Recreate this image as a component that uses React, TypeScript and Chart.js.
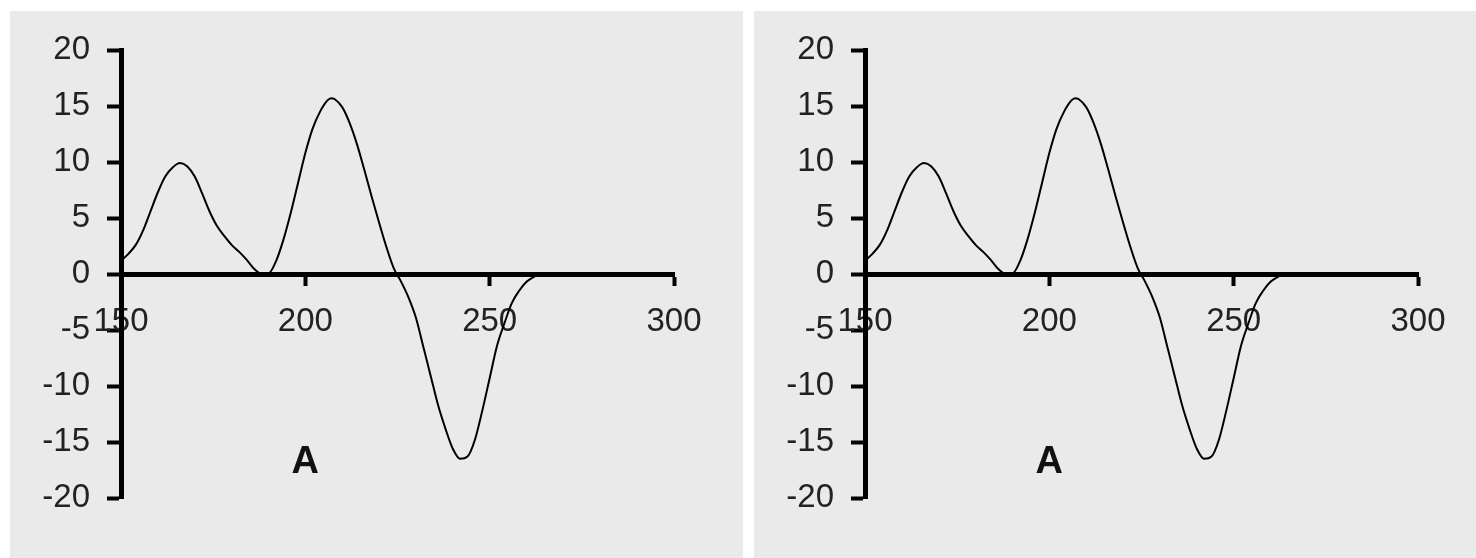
import React, { useEffect, useRef } from "react";
import { Chart, registerables } from "chart.js";

Chart.register(...registerables);

// Data
const xValues = [
  150, 152, 154, 156, 158, 160, 162, 164, 166, 168, 170, 172, 174, 176, 178, 180,
  182, 184, 186, 188, 190, 192, 194, 196, 198, 200, 202, 204, 206, 207, 208, 210,
  212, 214, 216, 218, 220, 222, 224, 226, 228, 230, 232, 234, 236, 238, 240, 242,
  244, 246, 248, 250, 252, 254, 256, 258, 260, 262, 264, 280, 300,
];
const yValues = [
  1.2, 1.8, 2.6, 3.9, 5.6, 7.3, 8.7, 9.5, 9.9, 9.6, 8.7, 7.2, 5.6, 4.3, 3.4, 2.6,
  2.0, 1.3, 0.5, 0.05, 0.05, 1.1, 3.0, 5.4, 8.1, 10.8, 13.0, 14.5, 15.5, 15.7, 15.6, 14.9,
  13.5, 11.6, 9.3, 6.9, 4.6, 2.4, 0.5, -0.7, -2.1, -3.9, -6.5, -9.1, -11.7, -13.8, -15.6, -16.5,
  -16.3, -14.8, -12.2, -9.3, -6.4, -4.4, -2.6, -1.5, -0.7, -0.25, 0, 0, 0,
];
const xTicks = [150, 200, 250, 300];
const yTicks = [-20, -15, -10, -5, 0, 5, 10, 15, 20];
const panelLabel = "A";
const panelLabelAt = { x: 200, y: -16.8 };

const FONT = "'Liberation Sans', Arial, sans-serif";

const labelPlugin = {
  id: "panelLabel",
  afterDatasetsDraw(chart: any) {
    const { ctx, scales } = chart;
    const px = scales.x.getPixelForValue(panelLabelAt.x);
    const py = scales.y.getPixelForValue(panelLabelAt.y);
    ctx.save();
    ctx.font = `bold 38px ${FONT}`;
    ctx.fillStyle = "#111";
    ctx.textAlign = "center";
    ctx.textBaseline = "middle";
    ctx.fillText(panelLabel, px, py);
    ctx.restore();
  },
};

function Panel({ left }: { left: number }) {
  const ref = useRef<HTMLCanvasElement | null>(null);
  useEffect(() => {
    if (!ref.current) return;
    const chart = new Chart(ref.current, {
      type: "line",
      data: {
        datasets: [
          {
            data: xValues.map((x, i) => ({ x, y: yValues[i] })),
            borderColor: "#000",
            borderWidth: 2,
            pointRadius: 0,
            fill: false,
            cubicInterpolationMode: "monotone",
          },
        ],
      },
      options: {
        animation: false,
        responsive: false,
        events: [],
        layout: { padding: { left: 0, top: 39, right: 69, bottom: 60 } },
        plugins: { legend: { display: false }, tooltip: { enabled: false } },
        scales: {
          x: {
            type: "linear",
            min: 150,
            max: 300,
            position: { y: 0 } as any,
            afterBuildTicks: (s: any) => {
              s.ticks = xTicks.map((v) => ({ value: v }));
            },
            ticks: {
              font: { family: FONT, size: 33 },
              color: "#222",
              padding: 19,
              maxRotation: 0,
              autoSkip: false,
            },
            grid: {
              drawOnChartArea: false,
              drawTicks: true,
              tickLength: 9,
              tickWidth: 4,
              tickColor: "#000",
            },
            border: { display: true, color: "#000", width: 5 },
          },
          y: {
            type: "linear",
            min: -20,
            max: 20,
            position: "left",
            afterBuildTicks: (s: any) => {
              s.ticks = yTicks.map((v) => ({ value: v }));
            },
            afterFit: (s: any) => {
              s.width = 111;
            },
            ticks: {
              font: { family: FONT, size: 33 },
              color: "#222",
              padding: 17,
              autoSkip: false,
            },
            grid: {
              drawOnChartArea: false,
              drawTicks: true,
              tickLength: 14,
              tickWidth: 4,
              tickColor: "#000",
            },
            border: { display: true, color: "#000", width: 5 },
          },
        },
      },
      plugins: [labelPlugin],
    });
    return () => chart.destroy();
  }, []);
  return (
    <div
      style={{
        position: "absolute",
        left,
        top: 11,
        width: 733,
        height: 547,
        background: "#eaeaea",
      }}
    >
      <canvas ref={ref} width={733} height={547} style={{ width: 733, height: 547, display: "block" }} />
    </div>
  );
}

export default function App() {
  return (
    <div
      style={{
        position: "fixed",
        left: 0,
        top: 0,
        width: 1476,
        height: 558,
        background: "#fff",
        overflow: "hidden",
      }}
    >
      <Panel left={10} />
      <Panel left={754} />
    </div>
  );
}
